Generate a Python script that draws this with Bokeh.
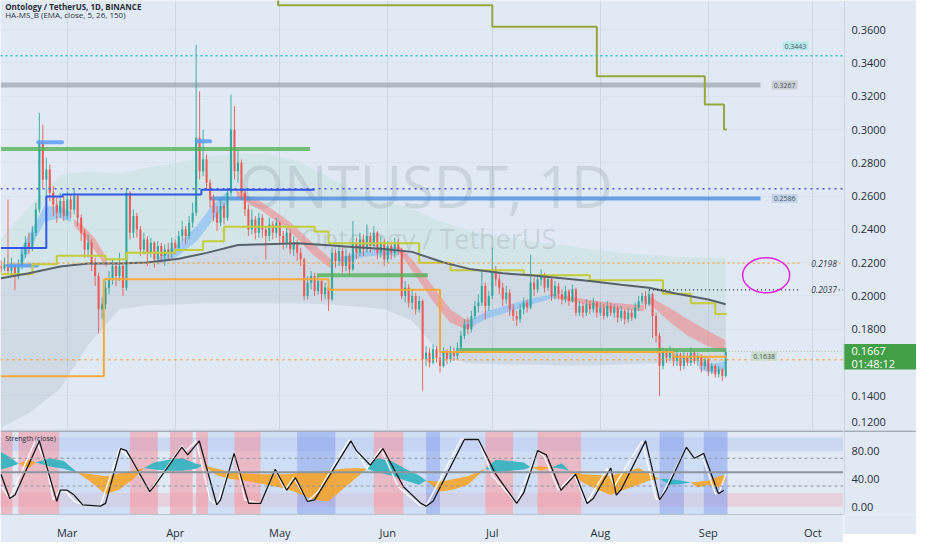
import numpy as np
import pandas as pd
from bokeh.plotting import figure
from bokeh.layouts import column, row
from bokeh.models import (Range1d, Span, Label, FixedTicker, MonthsTicker, DatetimeTickFormatter)
from bokeh.core.properties import value
from bokeh.embed import file_html
from bokeh.resources import INLINE

# ---------------- data ----------------
START = "2023-02-10"          # first daily candle
FIRST_OPEN = 0.2180
close = [
 0.2165,0.2190,0.2150,0.2180,0.2120,0.2180,0.2250,0.2320,0.2290,0.2380,
 0.2520,0.2920,0.2700,0.2760,0.2620,0.2550,0.2500,0.2570,0.2480,0.2580,
 0.2520,0.2600,0.2470,0.2380,0.2280,0.2320,0.2200,0.2120,0.1920,0.1950,
 0.2050,0.2100,0.2180,0.2120,0.2180,0.2050,0.2620,0.2380,0.2480,0.2400,
 0.2280,0.2340,0.2260,0.2320,0.2220,0.2300,0.2240,0.2280,0.2260,0.2320,
 0.2290,0.2360,0.2400,0.2360,0.2440,0.2500,0.2950,0.2750,0.2820,0.2680,
 0.2580,0.2500,0.2440,0.2540,0.2470,0.2620,0.3000,0.2750,0.2800,0.2620,
 0.2520,0.2400,0.2460,0.2380,0.2470,0.2400,0.2360,0.2430,0.2380,0.2440,
 0.2360,0.2320,0.2380,0.2280,0.2320,0.2260,0.2220,0.2000,0.2080,0.2120,
 0.2030,0.2090,0.2010,0.2050,0.1980,0.2260,0.2210,0.2270,0.2180,0.2240,
 0.2160,0.2320,0.2260,0.2340,0.2280,0.2360,0.2300,0.2380,0.2260,0.2320,
 0.2220,0.2300,0.2260,0.2320,0.2280,0.2000,0.2050,0.1960,0.2000,0.1920,
 0.1970,0.1620,0.1660,0.1600,0.1680,0.1630,0.1580,0.1660,0.1620,0.1670,
 0.1640,0.1690,0.1760,0.1830,0.1800,0.1880,0.1940,0.1960,0.2060,0.1940,
 0.2000,0.2160,0.2100,0.2050,0.1980,0.2020,0.1920,0.1880,0.1860,0.1920,
 0.1960,0.1930,0.2080,0.2040,0.2100,0.2130,0.2050,0.2100,0.2000,0.2060,
 0.2010,0.1980,0.2030,0.1970,0.2040,0.1900,0.1940,0.1900,0.1950,0.1920,
 0.1960,0.1900,0.1930,0.1880,0.1940,0.1900,0.1930,0.1870,0.1910,0.1860,
 0.1900,0.1870,0.1930,0.1970,0.2000,0.1950,0.2010,0.1880,0.1760,0.1580,
 0.1660,0.1630,0.1670,0.1610,0.1650,0.1580,0.1640,0.1600,0.1660,0.1610,
 0.1640,0.1580,0.1620,0.1550,0.1580,0.1530,0.1560,0.1520,0.1667]
high = [
 0.2215,0.2230,0.2580,0.2230,0.2190,0.2220,0.2290,0.2360,0.2380,0.2420,
 0.2560,0.3100,0.3030,0.2830,0.2790,0.2660,0.2600,0.2620,0.2600,0.2630,
 0.2610,0.2640,0.2610,0.2490,0.2400,0.2370,0.2340,0.2230,0.2140,0.1990,
 0.2090,0.2150,0.2220,0.2200,0.2260,0.2190,0.2650,0.2630,0.2520,0.2500,
 0.2420,0.2380,0.2360,0.2350,0.2330,0.2330,0.2320,0.2310,0.2320,0.2350,
 0.2340,0.2390,0.2450,0.2420,0.2480,0.2560,0.3510,0.3230,0.3000,0.2850,
 0.2700,0.2610,0.2540,0.2580,0.2560,0.2650,0.3210,0.3140,0.2880,0.2820,
 0.2640,0.2550,0.2520,0.2480,0.2500,0.2490,0.2420,0.2470,0.2450,0.2470,
 0.2450,0.2390,0.2410,0.2400,0.2360,0.2340,0.2290,0.2230,0.2120,0.2150,
 0.2140,0.2120,0.2100,0.2080,0.2060,0.2290,0.2280,0.2310,0.2290,0.2280,
 0.2260,0.2450,0.2350,0.2380,0.2370,0.2430,0.2380,0.2420,0.2390,0.2360,
 0.2340,0.2330,0.2320,0.2350,0.2340,0.2290,0.2090,0.2070,0.2040,0.2020,
 0.2000,0.1980,0.1700,0.1690,0.1710,0.1700,0.1660,0.1690,0.1680,0.1700,
 0.1690,0.1720,0.1790,0.1860,0.1870,0.1910,0.1970,0.2010,0.2154,0.2080,
 0.2030,0.2290,0.2180,0.2130,0.2080,0.2060,0.2040,0.1950,0.1910,0.1950,
 0.1990,0.1980,0.2247,0.2110,0.2130,0.2160,0.2140,0.2120,0.2110,0.2090,
 0.2080,0.2040,0.2060,0.2040,0.2070,0.2050,0.1970,0.1960,0.1980,0.1970,
 0.1990,0.1970,0.1960,0.1950,0.1970,0.1960,0.1950,0.1940,0.1940,0.1920,
 0.1930,0.1920,0.1960,0.2000,0.2020,0.2030,0.2037,0.2020,0.1900,0.1780,
 0.1690,0.1680,0.1700,0.1680,0.1680,0.1660,0.1670,0.1660,0.1690,0.1670,
 0.1660,0.1650,0.1640,0.1630,0.1600,0.1590,0.1580,0.1570,0.1688]
low = [
 0.2140,0.2150,0.2130,0.2120,0.2035,0.2100,0.2160,0.2230,0.2250,0.2270,
 0.2360,0.2500,0.2650,0.2600,0.2570,0.2480,0.2440,0.2470,0.2450,0.2460,
 0.2470,0.2490,0.2420,0.2330,0.2230,0.2230,0.2150,0.2060,0.1775,0.1860,
 0.1920,0.2010,0.2070,0.2060,0.2090,0.2000,0.2030,0.2340,0.2350,0.2350,
 0.2240,0.2250,0.2180,0.2230,0.2170,0.2190,0.2200,0.2180,0.2210,0.2230,
 0.2250,0.2270,0.2330,0.2310,0.2340,0.2410,0.2480,0.2700,0.2720,0.2640,
 0.2530,0.2450,0.2390,0.2420,0.2430,0.2450,0.2600,0.2700,0.2680,0.2580,
 0.2480,0.2360,0.2370,0.2340,0.2350,0.2350,0.2220,0.2330,0.2340,0.2350,
 0.2320,0.2280,0.2290,0.2250,0.2240,0.2210,0.2180,0.1975,0.1980,0.2040,
 0.2000,0.2010,0.1970,0.1980,0.1910,0.1970,0.2170,0.2180,0.2140,0.2150,
 0.2120,0.2150,0.2220,0.2240,0.2240,0.2260,0.2260,0.2280,0.2220,0.2230,
 0.2180,0.2200,0.2220,0.2230,0.2250,0.1980,0.1960,0.1930,0.1920,0.1890,
 0.1900,0.1430,0.1580,0.1570,0.1590,0.1600,0.1540,0.1570,0.1590,0.1600,
 0.1610,0.1620,0.1680,0.1740,0.1770,0.1780,0.1860,0.1900,0.1940,0.1860,
 0.1910,0.1980,0.2060,0.2010,0.1940,0.1950,0.1880,0.1850,0.1820,0.1840,
 0.1890,0.1900,0.1920,0.2000,0.2020,0.2060,0.2020,0.2030,0.1970,0.1980,
 0.1980,0.1950,0.1960,0.1940,0.1960,0.1880,0.1880,0.1870,0.1880,0.1890,
 0.1900,0.1870,0.1880,0.1860,0.1870,0.1880,0.1870,0.1840,0.1850,0.1830,
 0.1840,0.1850,0.1860,0.1910,0.1950,0.1920,0.1940,0.1750,0.1720,0.1400,
 0.1560,0.1600,0.1610,0.1580,0.1580,0.1550,0.1560,0.1580,0.1580,0.1590,
 0.1580,0.1540,0.1560,0.1520,0.1530,0.1510,0.1510,0.1490,0.1510]

# slow EMA and its envelope (day offsets from START)
band_days  = [0, 8, 17, 25, 34, 42, 51, 59, 68, 76, 85, 93, 101, 110, 118, 127, 135, 144, 152, 161, 169, 178, 186, 194, 203, 208]
ema150     = [0.2107, 0.2136, 0.2177, 0.2195, 0.2195, 0.2201, 0.2224, 0.2259, 0.2306, 0.2311, 0.2317, 0.2306, 0.2294,
              0.2282, 0.2265, 0.2201, 0.2160, 0.2136, 0.2125, 0.2107, 0.2090, 0.2067, 0.2049, 0.2014, 0.1979, 0.1950]
band_upper = [0.2346, 0.2533, 0.2725, 0.2749, 0.2737, 0.2772, 0.2801, 0.2842, 0.2854, 0.2854, 0.2813, 0.2725, 0.2638,
              0.2580, 0.2521, 0.2445, 0.2387, 0.2358, 0.2329, 0.2306, 0.2282, 0.2259, 0.2247, 0.2236, 0.2230, 0.2230]
band_lower = [0.1209, 0.1297, 0.1443, 0.1705, 0.1921, 0.1944, 0.1950, 0.1956, 0.1956, 0.1956, 0.1956, 0.1950, 0.1938,
              0.1921, 0.1851, 0.1629, 0.1594, 0.1588, 0.1588, 0.1583, 0.1583, 0.1588, 0.1594, 0.1594, 0.1600, 0.1600]

# EMA 5/26 ribbons: (days, upper, lower)
red_ribbons = [
    ([21, 24, 27, 30.4], [0.2463, 0.2411, 0.2346, 0.2224], [0.2422, 0.2352, 0.2271, 0.2166]),
    ([67.6, 74.6, 83, 89.5, 94.6], [0.2632, 0.2568, 0.2445, 0.2317, 0.2224], [0.2597, 0.2515, 0.2387, 0.2247, 0.2166]),
    ([114, 118.3, 124, 129, 133, 135.8], [0.2306, 0.2212, 0.2055, 0.1921, 0.1862, 0.1851],
     [0.2271, 0.2142, 0.1967, 0.1839, 0.1804, 0.1816]),
    ([157.7, 164.8, 171.8, 180.3, 184.5], [0.2014, 0.1991, 0.1967, 0.1950, 0.1944], [0.1991, 0.1962, 0.1932, 0.1915, 0.1909]),
    ([186, 191.5, 197, 202.7, 207.9], [0.1997, 0.1932, 0.1862, 0.1792, 0.1734], [0.1956, 0.1851, 0.1763, 0.1699, 0.1664]),
]
blue_ribbons = [
    ([5.5, 9, 12.5, 16.8, 20.1], [0.2276, 0.2405, 0.2539, 0.2539, 0.2504], [0.2171, 0.2306, 0.2445, 0.2469, 0.2445]),
    ([45, 50.5, 56.2, 60.4, 65.2], [0.2230, 0.2306, 0.2422, 0.2539, 0.2632], [0.2189, 0.2236, 0.2329, 0.2445, 0.2562]),
    ([97, 104, 111, 114], [0.2230, 0.2271, 0.2288, 0.2282], [0.2189, 0.2236, 0.2247, 0.2253]),
    ([132.8, 139.3, 146.3, 153.4, 159], [0.1833, 0.1909, 0.1950, 0.1991, 0.2014], [0.1792, 0.1862, 0.1909, 0.1956, 0.1991]),
    ([200.4, 204, 207.9], [0.1606, 0.1594, 0.1606], [0.1559, 0.1536, 0.1559]),
]

# step lines
lime_days = [0, 9, 16, 30, 36, 50, 58, 64, 90, 94, 120, 129, 150, 169, 190, 198, 205, 208.3]
lime_vals = [0.2130, 0.2190, 0.2241, 0.2220, 0.2260, 0.2277, 0.2329, 0.2416, 0.2387, 0.2317, 0.2200, 0.2154,
             0.2125, 0.2095, 0.2014, 0.1956, 0.1892, 0.1892]
orange_days = [0, 29.5, 94, 126, 193, 208.3]
orange_vals = [0.1518, 0.2101, 0.2037, 0.1664, 0.1635, 0.1635]
olive_days = [79.5, 79.5, 141, 171, 202, 207.5, 208.3]
olive_vals = [0.3900, 0.3746, 0.3617, 0.3320, 0.3151, 0.3000, 0.3000]
royal_days = [0, 13.0, 17.7, 57.5, 90]
royal_vals = [0.2288, 0.2597, 0.2609, 0.2638, 0.2638]

# thick horizontal zones
lb_start = [2, 10.7, 56.3]
lb_end = [10.4, 17.5, 60]
lb_price = [0.2183, 0.2924, 0.2930]
green_start = [0, 90.7, 131.5]
green_end = [88.7, 122.5, 208]
green_price = [0.2883, 0.2125, 0.1676]

LEVEL_TEAL, LEVEL_GRAY, LEVEL_BLUE_DOT, LEVEL_BLUE = 0.3443, 0.3267, 0.2644, 0.2586
LEVEL_ORANGE, LEVEL_BLACK, LEVEL_TAG, LEVEL_ORANGE2 = 0.2198, 0.2037, 0.1638, 0.1617
LAST_PRICE = 0.1667
LAST_TIMER = "01:48:12"
price_ticks = [0.12, 0.14, 0.18, 0.20, 0.22, 0.24, 0.26, 0.28, 0.30, 0.32, 0.34, 0.36]

# strength pane
strength_ticks = [0, 40, 80]
k_days = [0, 2.5, 10, 13, 15, 17, 19, 21, 24, 28.5, 34, 37, 42.7, 51.9, 53, 56, 60, 62, 67, 70, 74.5, 78.7, 81.5,
          84, 88, 91, 100, 102, 105, 109, 114, 120, 122, 132, 137, 141, 148, 154, 156, 160, 164.5, 168, 174, 176,
          184, 188, 189, 196.7, 199, 201, 205, 206, 208]
k_vals = [30, 12, 97, 60, 10, 25, 20, 8, 2, 1, 84, 70, 22, 88, 80, 95, 10, 3, 77, 10, 5, 54, 24, 42, 8, 22, 97, 81,
          55, 84, 29, 3, 1, 97, 97, 45, 5, 81, 72, 24, 47, 5, 55, 30, 95, 12, 10, 86, 70, 77, 19, 19, 47]
d_days = [0, 2.5, 4, 11, 16, 17, 19, 21, 23.4, 28.5, 30, 34.3, 36, 42.7, 44, 51.9, 53.6, 56.9, 61.9, 63, 66.9, 71.1,
          74.5, 78.7, 82, 84.5, 87.9, 90, 100.4, 102, 106, 109.6, 115.5, 120.5, 122, 124, 133, 137, 142, 148, 150,
          154, 156.5, 160.7, 164.9, 168.2, 170, 175, 176.6, 178, 185, 189, 191, 196.7, 199, 201.7, 205.9, 207.5]
d_vals = [47, 12, 17, 95, 8, 24, 24, 17, 3, 1, 5, 84, 81, 22, 30, 86, 75, 95, 3, 10, 77, 5, 5, 54, 24, 42, 8, 10,
          95, 81, 60, 84, 29, 5, 1, 8, 97, 97, 47, 5, 20, 81, 75, 24, 47, 5, 12, 56, 17, 25, 95, 10, 25, 86, 70, 77,
          19, 24]
c_days = [0, 3, 5, 8, 10, 14, 18, 22, 26, 30, 34, 38, 41, 44, 48, 52, 56, 58, 62, 66, 70, 74, 78, 82, 86, 90, 94,
          98, 102, 105, 108, 112, 116, 120, 122, 126, 130, 134, 139, 142, 146, 150, 152, 155, 158, 161, 163, 167,
          171, 175, 179, 183, 186, 189, 192, 195, 198, 200, 203, 206, 208]
c_fast = [79, 70, 62, 56, 64, 70, 66, 49, 35, 18, 25, 40, 56, 64, 68, 70, 62, 60, 45, 40, 38, 34, 30, 26, 18, 10, 8,
          25, 42, 55, 70, 66, 55, 45, 38, 22, 25, 32, 55, 68, 66, 64, 57, 52, 57, 63, 52, 35, 25, 17, 25, 32, 38, 40,
          40, 38, 35, 28, 32, 28, 38]
c_slow = [54, 58, 62, 68, 64, 58, 55, 49, 47, 44, 48, 52, 56, 54, 52, 52, 55, 60, 55, 50, 48, 47, 47, 47, 49, 50, 52,
          55, 56, 55, 50, 45, 38, 32, 38, 36, 40, 44, 55, 50, 52, 54, 57, 58, 57, 55, 52, 47, 46, 45, 50, 56, 48, 40,
          32, 33, 35, 36, 38, 44, 46]
stripe_start = [0, 5, 16.7, 25, 37, 48.5, 56, 59.4, 67, 74.5, 85, 96, 107, 115.5, 122, 126, 139, 147, 154, 166.5,
                189, 196, 201.7]
stripe_end = [3.3, 16.7, 25, 37, 45, 55, 59.4, 67, 74.5, 85, 96, 107, 115.5, 122, 126, 139, 147, 154, 166.5, 189,
              196, 201.7, 208.5]
stripe_kind = ["r", "r", "l", "l", "r", "r", "r", "l", "r", "l", "b", "l", "r", "l", "b", "l", "r", "l", "r", "l",
               "b", "l", "b"]

# ---------------- helpers ----------------
DAY = 86400000.0
T0 = pd.Timestamp(START).value / 1e6


def X(d):
    return (T0 + np.asarray(d, dtype=float) * DAY).tolist()


BG = "#e1eaf4"
FW = 843          # chart frame width
AW = 73           # price-scale width
FONT = "Open Sans"
TXT = "#2a2e39"
AXIS_LINE = "#b9c3cd"
x_range = Range1d(X(-0.15), X(241.8))
p_yrange = Range1d(0.1192, 0.3775)
q_yrange = Range1d(-11, 110)


def style(fig):
    fig.background_fill_color = BG
    fig.border_fill_color = BG
    fig.outline_line_color = None


# ---------------- main pane ----------------
p = figure(frame_width=FW, frame_height=430, x_axis_type="datetime", x_axis_location=None, y_axis_location=None,
           x_range=x_range, y_range=p_yrange, output_backend="svg", toolbar_location=None, min_border=0)
style(p)
p.xgrid[0].ticker = MonthsTicker(months=list(range(12)))
p.xgrid[0].grid_line_color = "#cdd7e2"
p.ygrid[0].ticker = FixedTicker(ticks=price_ticks)
p.ygrid[0].grid_line_color = "#d6dfe9"
p.ygrid[0].grid_line_alpha = 0.6

# envelope
bx = X(band_days)
p.varea(x=bx, y1=band_lower, y2=ema150, fill_color="#a9b8c8", fill_alpha=0.33)
p.varea(x=bx, y1=ema150, y2=band_upper, fill_color="#bcdcd3", fill_alpha=0.35)

# watermark
p.text(x=[X(122)], y=[0.2661], text=["ONTUSDT, 1D"], text_font=value(FONT), text_font_size="58px",
       text_color="#8d99a6", text_alpha=0.28, text_align="center", text_baseline="middle")
p.text(x=[X(122.7)], y=[0.2346], text=["Ontology / TetherUS"], text_font=value(FONT), text_font_size="27px",
       text_color="#8d99a6", text_alpha=0.28, text_align="center", text_baseline="middle")

# ribbons
for dd, up, lo in red_ribbons:
    p.varea(x=X(dd), y1=lo, y2=up, fill_color="#f08a8c", fill_alpha=0.6)
for dd, up, lo in blue_ribbons:
    p.varea(x=X(dd), y1=lo, y2=up, fill_color="#8cc0f2", fill_alpha=0.7)

# thick level lines (under candles)
p.segment(x0=[X(0)], y0=[LEVEL_GRAY], x1=[X(218)], y1=[LEVEL_GRAY], line_color="#a4adb7", line_width=5,
          line_alpha=0.8)
p.segment(x0=[X(60)], y0=[LEVEL_BLUE], x1=[X(218)], y1=[LEVEL_BLUE], line_color="#4a8ee0", line_width=4,
          line_alpha=0.8)

# candles
opens = [FIRST_OPEN] + close[:-1]
cx = X(list(range(len(close))))
cols = ["#26a69a" if c >= o else "#ef5350" for o, c in zip(opens, close)]
p.segment(x0=cx, y0=low, x1=cx, y1=high, line_color=cols, line_width=1, line_alpha=0.85)
p.vbar(x=cx, width=0.62 * DAY, top=[max(o, c) for o, c in zip(opens, close)],
       bottom=[min(o, c) for o, c in zip(opens, close)], fill_color=cols, line_color=None, fill_alpha=0.85)

# zones
p.segment(x0=X(green_start), y0=green_price, x1=X(green_end), y1=green_price, line_color="#4caf50",
          line_width=4, line_alpha=0.75)
p.segment(x0=X(lb_start), y0=lb_price, x1=X(lb_end), y1=lb_price, line_color="#5b9cf6", line_width=4,
          line_alpha=0.85, line_cap="round")

# step lines
p.step(x=X(lime_days), y=lime_vals, mode="after", line_color="#c3cc3a", line_width=2)
p.step(x=X(orange_days), y=orange_vals, mode="after", line_color="#f9a93a", line_width=2)
p.step(x=X(olive_days), y=olive_vals, mode="after", line_color="#96a63e", line_width=2)
p.step(x=X(royal_days), y=royal_vals, mode="after", line_color="#3156e8", line_width=2)
p.line(x=bx, y=ema150, line_color="#59626b", line_width=2)

# dotted levels
p.add_layout(Span(location=LEVEL_TEAL, dimension="width", line_color="#29bfd0", line_dash="2 3", line_width=1.3))
p.add_layout(Span(location=LEVEL_BLUE_DOT, dimension="width", line_color="#4a57dd", line_dash="2 4",
                  line_width=1.6))
p.add_layout(Span(location=LEVEL_ORANGE2, dimension="width", line_color="#f7a440", line_dash="2 4",
                  line_width=1.4))
p.segment(x0=[X(-1), X(240.4)], y0=[LEVEL_ORANGE] * 2, x1=[X(229.5), X(243)], y1=[LEVEL_ORANGE] * 2,
          line_color="#f7a440", line_dash="2 3", line_width=1.3)
p.segment(x0=[X(186), X(240.4)], y0=[LEVEL_BLACK] * 2, x1=[X(229.5), X(243)], y1=[LEVEL_BLACK] * 2,
          line_color="#222222", line_dash="1 3", line_width=1.3)
p.segment(x0=[X(208)], y0=[LAST_PRICE], x1=[X(243)], y1=[LAST_PRICE], line_color="#a9bca9",
          line_dash="1 2", line_width=1)

# target ellipse
p.ellipse(x=[X(219.6)], y=[0.2125], width=13.5 * DAY, height=0.021, fill_color=None,
          line_color="#e425de", line_width=1.5)

# labels
for d, yv, txt, bgc in [(228, 0.3501, "0.3443", "#b6e8ee"), (224.9, LEVEL_GRAY, "0.3267", "#c8cdd3"),
                        (224.9, LEVEL_BLUE, "0.2586", "#c3d3e8"), (219, LEVEL_TAG, "0.1638", "#c9dcc9")]:
    p.add_layout(Label(x=X(d), y=yv, text=txt, text_align="center", text_baseline="middle",
                       text_font=FONT, text_font_size="7px", text_color="#4a5560",
                       background_fill_color=bgc, background_fill_alpha=0.95, padding=2))
for yv, txt in [(LEVEL_ORANGE, "0.2198"), (LEVEL_BLACK, "0.2037")]:
    p.add_layout(Label(x=X(239.9), y=yv, text=txt, text_align="right", text_baseline="middle",
                       text_font=FONT, text_font_size="8.5px", text_font_style="italic", text_color="#333a44"))
p.add_layout(Label(x=X(1.2), y=0.3741, text="Ontology / TetherUS, 1D, BINANCE", text_baseline="middle",
                   text_font=FONT, text_font_size="8px", text_font_style="bold", text_color="#2a2e39"))
p.add_layout(Label(x=X(1.2), y=0.3693, text="HA-MS_B (EMA, close, 5, 26, 150)", text_baseline="middle",
                   text_font=FONT, text_font_size="8px", text_color="#2a2e39"))

# ---------------- price scale ----------------
pa = figure(frame_width=AW, frame_height=430, x_range=Range1d(0, AW), y_range=p_yrange, x_axis_location=None,
            y_axis_location=None, output_backend="svg", toolbar_location=None, min_border=0)
style(pa)
pa.xgrid.visible = False
pa.ygrid.visible = False
pa.add_layout(Span(location=0.5, dimension="height", line_color=AXIS_LINE, line_width=1))
upper_ticks = [t for t in price_ticks if t > 0.125]
pa.text(x=[8] * len(upper_ticks), y=upper_ticks, text=[f"{t:.4f}" for t in upper_ticks], text_font=value(FONT),
        text_font_size="11px", text_color=TXT, text_baseline="middle")
pa.text(x=[8], y=[price_ticks[0]], text=[f"{price_ticks[0]:.4f}"], text_font=value(FONT),
        text_font_size="11px", text_color=TXT, text_baseline="bottom", y_offset=-3)
pa.quad(left=[0], right=[AW], top=[LAST_PRICE + 0.0044], bottom=[LAST_PRICE - 0.0108], fill_color="#43a047",
        line_color=None)
pa.text(x=[8, 8], y=[LAST_PRICE, LAST_PRICE - 0.0072], text=[f"{LAST_PRICE:.4f}", LAST_TIMER],
        text_font=value(FONT), text_font_size="11px", text_color="white", text_baseline="middle")

# ---------------- strength pane ----------------
q = figure(frame_width=FW, frame_height=84, x_axis_type="datetime", y_axis_location=None, x_range=x_range,
           y_range=q_yrange, output_backend="svg", toolbar_location=None, min_border=0)
style(q)
q.xgrid.visible = False
q.ygrid.visible = False
qx = q.xaxis[0]
qx.ticker = MonthsTicker(months=list(range(12)))
qx.formatter = DatetimeTickFormatter(months="%b", days="%b", context=None)
qx.major_label_text_font = FONT
qx.major_label_text_font_size = "11px"
qx.major_label_text_color = TXT
qx.axis_line_color = AXIS_LINE
qx.major_tick_line_color = None
qx.minor_tick_line_color = None
qx.major_label_standoff = 4

q.quad(left=[X(-1)], right=[X(243)], bottom=[80], top=[100], fill_color="#9bb0ef", fill_alpha=0.3, line_color=None)
q.quad(left=[X(-1)], right=[X(243)], bottom=[0], top=[20], fill_color="#f0a0ab", fill_alpha=0.35, line_color=None)
kind_color = {"r": "#f1919f", "b": "#809cee", "l": "#c0d1f6"}
kind_alpha = {"r": 0.55, "b": 0.55, "l": 0.5}
q.quad(left=X(stripe_start), right=X(stripe_end), bottom=-11, top=110,
       fill_color=[kind_color[k] for k in stripe_kind], fill_alpha=[kind_alpha[k] for k in stripe_kind],
       line_color=None)

q.add_layout(Span(location=70, dimension="width", line_color="#8a949f", line_dash="3 3", line_width=1))
q.add_layout(Span(location=30, dimension="width", line_color="#8a949f", line_dash="3 3", line_width=1))
q.add_layout(Span(location=50, dimension="width", line_color="#8c949c", line_width=2))

# cloud between fast and slow
ccx = X(c_days)
cuts = [i for i in range(len(c_days)) if c_fast[i] == c_slow[i] or i in (0, len(c_days) - 1)]
pxs, pys, pcs = [], [], []
for a, b in zip(cuts[:-1], cuts[1:]):
    xs = ccx[a:b + 1] + ccx[a:b + 1][::-1]
    ys = c_fast[a:b + 1] + c_slow[a:b + 1][::-1]
    sgn = c_fast[a + 1] - c_slow[a + 1]
    pxs.append(xs)
    pys.append(ys)
    pcs.append("#2fb3c0" if sgn > 0 else "#f5a52b")
q.patches(xs=pxs, ys=pys, fill_color=pcs, fill_alpha=0.9, line_color=None)

q.line(x=X(k_days), y=k_vals, line_color="#ffffff", line_width=1.3)
q.line(x=X(d_days), y=d_vals, line_color="#151515", line_width=1.3)
q.add_layout(Span(location=109.3, dimension="width", line_color="#a3adb8", line_width=2))
q.add_layout(Label(x=X(1.2), y=99, text="Strength (close)", text_baseline="middle", text_font=FONT,
                   text_font_size="7px", text_color="#2a2e39"))

# strength scale
qa = figure(frame_width=AW, frame_height=84, x_range=Range1d(0, AW), y_range=q_yrange, x_axis_location=None,
            y_axis_location=None, output_backend="svg", toolbar_location=None, min_border=0,
            min_border_bottom=20)
style(qa)
qa.xgrid.visible = False
qa.ygrid.visible = False
qa.add_layout(Span(location=0.5, dimension="height", line_color=AXIS_LINE, line_width=1))
qa.add_layout(Span(location=109.3, dimension="width", line_color="#a3adb8", line_width=2))
qa.text(x=[8] * len(strength_ticks), y=strength_ticks, text=[f"{t:.2f}" for t in strength_ticks],
        text_font=value(FONT), text_font_size="11px", text_color=TXT, text_baseline="middle")

layout = row(column(p, q, spacing=0), column(pa, qa, spacing=0), spacing=0)
open("out.html", "w").write(file_html(layout, INLINE))
